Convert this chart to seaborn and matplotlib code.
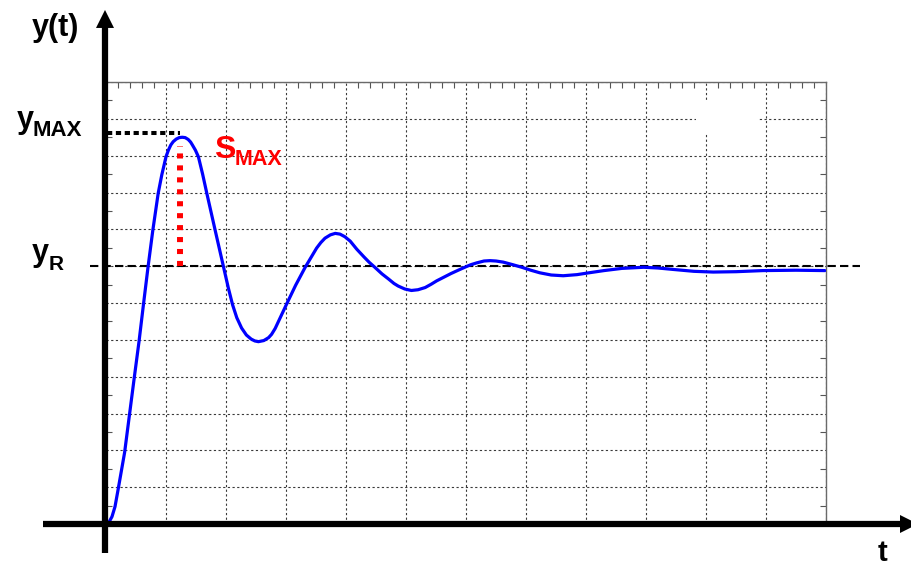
import matplotlib
matplotlib.use("Agg")
import matplotlib.pyplot as plt
from matplotlib.patches import Polygon, Rectangle
from matplotlib.ticker import MultipleLocator
import seaborn as sns
import pandas as pd

# Step response y(t) read on a 12 x 12 grid
t_vals = [0.0, 0.05, 0.1, 0.15, 0.2, 0.31, 0.39, 0.47, 0.55, 0.625, 0.7, 0.78,
          0.87, 0.93, 1.0, 1.04, 1.08, 1.12, 1.17, 1.22, 1.27, 1.32, 1.37, 1.41,
          1.44, 1.49, 1.54, 1.61, 1.68, 1.82, 1.96, 2.04, 2.11, 2.18, 2.26, 2.34,
          2.42, 2.48, 2.54, 2.63, 2.71, 2.76, 2.82, 3.01, 3.16, 3.32, 3.51, 3.58,
          3.65, 3.74, 3.82, 3.9, 3.98, 4.07, 4.18, 4.3, 4.39, 4.48, 4.6, 4.71,
          4.8, 4.87, 4.98, 5.09, 5.2, 5.32, 5.42, 5.51, 5.63, 5.75, 5.87, 5.98,
          6.08, 6.18, 6.3, 6.4, 6.5, 6.62, 6.78, 6.93, 7.08, 7.23, 7.42, 7.62,
          7.85, 8.05, 8.3, 8.6, 8.96, 9.2, 9.46, 9.8, 10.12, 10.5, 10.95, 11.5,
          11.98]
y_vals = [0.0, 0.05, 0.2, 0.47, 0.92, 1.94, 2.95, 3.96, 4.95, 5.97, 6.97, 7.97,
          8.98, 9.48, 9.97, 10.15, 10.29, 10.38, 10.45, 10.49, 10.5, 10.49, 10.44, 10.37,
          10.29, 10.15, 9.97, 9.5, 8.98, 7.97, 6.97, 6.4, 5.95, 5.6, 5.32, 5.13,
          5.02, 4.97, 4.95, 4.98, 5.06, 5.15, 5.31, 5.97, 6.48, 6.97, 7.49, 7.64,
          7.76, 7.85, 7.89, 7.87, 7.8, 7.68, 7.46, 7.25, 7.1, 6.97, 6.79, 6.65,
          6.53, 6.46, 6.38, 6.34, 6.36, 6.42, 6.51, 6.6, 6.7, 6.8, 6.89, 6.97,
          7.04, 7.09, 7.14, 7.15, 7.14, 7.11, 7.04, 6.97, 6.89, 6.82, 6.76, 6.74,
          6.77, 6.82, 6.88, 6.94, 6.97, 6.95, 6.91, 6.86, 6.84, 6.85, 6.88, 6.89,
          6.88]

y_final = 7.0      # steady-state value y_R
y_max = 10.62      # peak level y_MAX
t_peak = 1.23      # time of the peak
s_max_bottom = 7.0
s_max_top = 10.26

sns.set_style("white")
plt.rcParams["font.family"] = ["Liberation Sans", "DejaVu Sans"]
plt.rcParams["font.weight"] = "bold"

W, H = 912, 567
fig = plt.figure(figsize=(W / 100, H / 100), dpi=100)
ax = fig.add_axes([106 / W, 1 - 524 / H, 720 / W, 442 / H])
ax.set_xlim(0, 12)
ax.set_ylim(0, 12)

# grid and frame
ax.set_xticks(range(13))
ax.set_yticks(range(13))
ax.xaxis.set_minor_locator(MultipleLocator(0.2))
ax.yaxis.set_minor_locator(MultipleLocator(0.5))
ax.set_axisbelow(True)
ax.grid(True, which="major", color="#3a3a3a", linestyle=(0, (2, 2.2)), linewidth=0.8)
ax.tick_params(which="major", length=0, labelbottom=False, labelleft=False)
ax.tick_params(axis="x", which="minor", direction="in", length=4, width=0.8,
               color="#555555", top=True, bottom=False)
ax.tick_params(axis="y", which="minor", direction="in", length=4, width=0.8,
               color="#555555", left=True, right=True)
for s in ax.spines.values():
    s.set_color("#6a6a6a")
    s.set_linewidth(1.0)

# blank patch in the upper right of the grid
ax.add_patch(Rectangle((9.84, 10.6), 1.04, 0.87, facecolor="white",
                       edgecolor="none", zorder=1))

# reference level y_R
ax.plot([-0.27, 12.57], [y_final, y_final], color="black", lw=1.5,
        linestyle=(0, (4, 2)), clip_on=False, zorder=3)

# response curve
df = pd.DataFrame({"t": t_vals, "y": y_vals})
sns.lineplot(data=df, x="t", y="y", ax=ax, color="#0000ff", lw=2.3,
             sort=False, estimator=None, zorder=4)
ax.lines[-1].set_solid_joinstyle("round")
ax.set_xlabel("")
ax.set_ylabel("")

# y_MAX level and overshoot marker
ax.plot([0.02, t_peak], [y_max, y_max], color="black", lw=2.9,
        linestyle=(0, (1.3, 0.9)), zorder=3)
ax.plot([t_peak, t_peak], [s_max_bottom, s_max_top], color="#ff0000", lw=4.3,
        linestyle=(0, (0.85, 1.15)), zorder=5)

# thick coordinate axes with arrow heads
def px(x):
    return (x - 106) / 60.0

def py(y):
    return (524 - y) / 36.83

ax.plot([px(43), px(905)], [0, 0], color="black", lw=4.5,
        solid_capstyle="butt", clip_on=False, zorder=6)
ax.add_patch(Polygon([[px(900), py(515)], [px(918), 0], [px(900), py(533)]],
                     closed=True, facecolor="black", edgecolor="none",
                     clip_on=False, zorder=6))
ax.plot([px(105), px(105)], [py(553), py(26)], color="black", lw=4.5,
        solid_capstyle="butt", clip_on=False, zorder=6)
ax.add_patch(Polygon([[px(96), py(28)], [px(105), py(10)], [px(114), py(28)]],
                     closed=True, facecolor="black", edgecolor="none",
                     clip_on=False, zorder=6))

# labels
def ftext(x, y, s, size, color="black"):
    fig.text(x / W, 1 - y / H, s, fontsize=size, fontweight="bold",
             color=color, ha="left", va="baseline")

ftext(32, 36, "y(t)", 22)
ftext(17, 128, "y", 22)
ftext(33, 136, "MAX", 16)
ftext(32, 261, "y", 22)
ftext(49, 270, "R", 15)
ftext(214, 158, "S", 23, color="#ff0000")
ftext(235, 165, "MAX", 15.5, color="#ff0000")
ftext(878, 561, "t", 21)

fig.savefig("out.png", dpi=100)
